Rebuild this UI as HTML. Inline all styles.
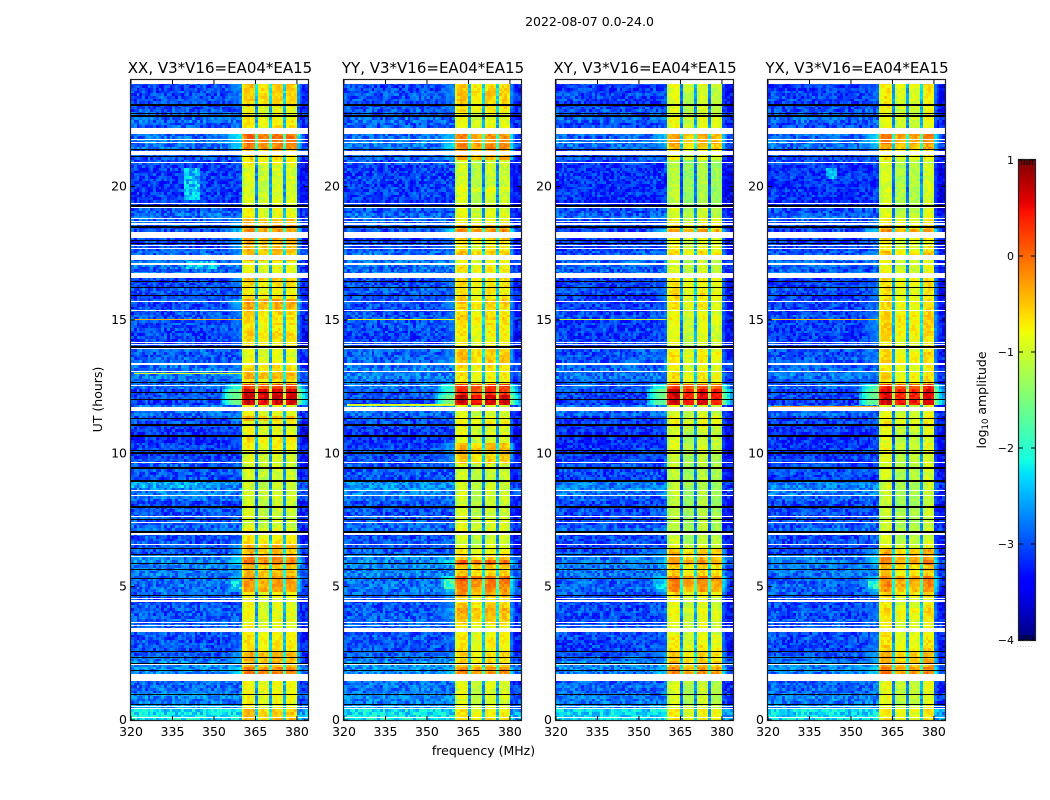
<!DOCTYPE html>
<html lang="en">
<head>
<meta charset="utf-8">
<title>2022-08-07 0.0-24.0 amplitude waterfall</title>
<style>
html,body{margin:0;padding:0;background:#fff;width:1050px;height:800px;overflow:hidden}
svg{display:block}
text{font-family:"DejaVu Sans","Liberation Sans",sans-serif;fill:#000}
</style>
</head>
<body>
<svg id="chart" xmlns="http://www.w3.org/2000/svg" width="1050" height="800" viewBox="0 0 1050 800"></svg>
<script>
// ---------- data ----------
const panelTitles = ["XX, V3*V16=EA04*EA15","YY, V3*V16=EA04*EA15","XY, V3*V16=EA04*EA15","YX, V3*V16=EA04*EA15"];
const panelNames = ["xx","yy","xy","yx"];
const xTicks = [320,335,350,365,380];
const yTicks = [0,5,10,15,20];
const colorTicks = [1,0,-1,-2,-3,-4];
const timeStepHours = 0.2;

// log10 amplitude inside the 360-380 MHz band, one value per 0.2 h from 0 h to 24 h
const bandLevelsXX = [-.45,-.45,-.75,-.75,-.75, -.75,-.7,-.75,-.05,-.1, -.4,-.35,-.35,-.65,-.65, -.65,-.75,-.75,-.8,-.8,
 -.8,-.8,-.8,-.75,-.25, -.2,-.2,-.4,-.4,-.05, -.15,-.4,-.35,-.6,-.7, -.8,-.95,-.95,-.95,-.95,
 -.95,-.95,-.95,-.95,-.95, -.95,-.95,-.95,-.9,-.9, -.8,-.75,-.6,-.85,-.8, -.8,-.4,-.8,-.8,.7,
 .7,.7,.25,-.6,-.35, -.5,-.6,-.8,-.85,-.85, -.65,-.6,-.55,-.65,-.6, -.6,-.5,-.3,-.25,-.65,
 -.7,-.55,-.45,-.8,-.75, -.8,-.4,-.45,-.4,-.35, -.3,-.2,-.25,-.4,-.75, -.8,-.9,-.9,-.9,-.9,
 -.9,-.9,-.9,-.9,-.7, -.6,-.5,-.1,-.05,0, -.7,-.65,-.7,-.75,-.8, -.6,-.5,-.5,-.45,-.4];
const bandLevelsYY = [-.65,-.65,-.8,-.9,-.85, -.9,-.85,-.9,-.15,-.15, -.5,-.6,-.55,-.7,-.65, -.65,-.7,-.7,-.5,-.4,
 -.3,-.45,-.6,-.3,-.15, -.05,.1,-.5,-.45,.05, -.45,-.7,-.85,-.95,-.9, -.8,-.85,-.9,-.95,-.95,
 -.95,-.95,-.95,-.95,-.95, -.95,-.95,-.95,-.5,-.5, -.35,-.4,-.9,-.8,-.85, -.7,-.75,-.9,-.9,.7,
 .7,.35,.3,-.7,-.65, -.65,-.55,-.45,-.45,-.5, -.7,-.7,-.65,-.65,-.6, -.5,-.65,-.5,-.45,-.65,
 -.65,-.6,-.55,-.8,-.6, -.75,-.85,-.45,-.65,-.65, -.4,-.1,-.4,-.75,-.8, -.85,-.9,-.95,-.95,-.8,
 -.95,-.95,-.95,-.95,-.95, -.3,-.3,-.1,-.15,-.15, -.8,-.8,-.8,-.7,-.6, -.55,-.5,-.45,-.5,-.55];
const bandLevelsXY = [-.65,-.65,-.85,-.95,-.95, -.95,-.95,-.95,-.1,-.15, -.4,-.45,-.45,-.6,-.7, -.7,-.8,-.8,-.8,-.75,
 -.7,-.85,-.8,-.6,-.2, -.1,-.05,-.5,-.5,-.15, -.3,-.4,-.8,-.95,-1, -1.05,-1.05,-1.05,-1.05,-1.05,
 -1.1,-1.1,-1.05,-1.1,-1.05, -1.05,-1.05,-1.05,-1,-1, -.85,-.85,-.95,-.9,-.9, -.7,-.7,-.9,-.9,.65,
 .65,.65,.25,-.65,-.6, -.7,-.8,-.65,-.6,-.7, -.85,-.8,-.8,-.8,-.75, -.7,-.75,-.65,-.65,-.6,
 -.65,-.65,-.65,-.8,-.9, -.9,-.95,-.5,-.7,-.8, -.7,-.2,-.6,-.7,-.9, -.95,-1.1,-1.1,-1.1,-1.1,
 -1.1,-1.1,-1.1,-1.1,-1.1, -.8,-.65,-.4,-.25,-.25, -.8,-.75,-.75,-.9,-.9, -.9,-.9,-.9,-.85,-.7];
const bandLevelsYX = [-.65,-.65,-.8,-.85,-.85, -.85,-.8,-.85,-.05,-.1, -.3,-.35,-.35,-.55,-.65, -.65,-.7,-.75,-.7,-.6,
 -.55,-.7,-.75,-.5,-.25, -.15,-.1,-.5,-.45,-.1, -.2,-.35,-.75,-.9,-.95, -1,-1,-1,-1,-1,
 -1.05,-1.05,-1,-1,-1, -.95,-.95,-.95,-.9,-.9, -.8,-.8,-.9,-.9,-.85, -.65,-.7,-.85,-.85,.65,
 .6,.6,.35,-.6,-.55, -.7,-.7,-.55,-.55,-.65, -.7,-.6,-.55,-.5,-.5, -.5,-.55,-.6,-.6,-.65,
 -.65,-.6,-.6,-.75,-.8, -.8,-.85,-.45,-.7,-.75, -.6,-.15,-.5,-.65,-.85, -.9,-.95,-.95,-.95,-.95,
 -.95,-.95,-.95,-.95,-.95, -.7,-.55,-.3,-.15,-.1, -.8,-.8,-.8,-.8,-.75, -.75,-.7,-.7,-.65,-.6];

// log10 amplitude of the quiet background, one value per 0.2 h
const backgroundLevels = [-2.2,-2.25,-2.6,-2.75,-2.7, -2.85,-2.85,-2.85,-2.75,-2.65, -2.65,-2.85,-2.95,-3,-3, -2.95,-2.95,-2.9,-2.9,-2.95,
 -2.95,-2.95,-3,-2.9,-2.85, -2.85,-2.85,-2.75,-2.75,-2.7, -2.75,-2.95,-3,-2.95,-3, -2.85,-2.9,-2.95,-3,-2.95,
 -3,-2.85,-2.75,-2.7,-2.7, -3,-2.95,-2.95,-3,-3.05, -3.05,-3.1,-3.15,-3.15,-3.1, -3,-3,-2.85,-2.75,-3.05,
 -3,-3,-2.85,-2.85,-2.75, -2.8,-2.85,-2.9,-2.95,-2.9, -3,-3.05,-3.05,-3,-3, -2.95,-3,-3,-3,-3.05,
 -2.95,-3,-3.05,-2.75,-2.9, -2.8,-2.85,-2.9,-3,-3.05, -3.05,-3,-2.95,-2.9,-2.85, -2.95,-3.1,-3.15,-3.1,-3.1,
 -3.1,-3.05,-3.1,-3.1,-3, -2.95,-3,-2.8,-2.75,-2.85, -2.95,-2.95,-2.85,-2.9,-2.95, -3.05,-3,-3,-3.05,-3];
const backgroundOffsets = [0,.02,-.05,-.05];

// gain of each 5 MHz sub-band per panel
const subbandGainsXX = [.02,-.14,-.02,-.05];
const subbandGainsYY = [.02,-.2,-.05,-.05];
const subbandGainsXY = [0,-.25,-.05,-.16];
const subbandGainsYX = [.02,-.22,-.2,0];

// channel response across 360-380 MHz (1 MHz channels); the dips sit at 365, 370 and 375 MHz
const channelShape = [-.3,-.06,0,0,-.06, -1.7, -.06,0,0,-.06, -1.7, -.06,0,0,-.06, -1.7, -.06,0,0,-.1];
// how far below the band level the wings sit, nearest the band at the end of the left list
const wingDropLeft = [3.1,2.8,2.5,2.4,2.3,2.3,2.2];
const wingDropRight = [2.2,2.5,2.9,3.2];

// hand-read speckle deviations used as texture on the cells
const speckle = [.12,-.31,.05,.38,-.18,.22,-.42,.09,-.06,.3,-.25,.17,-.37,.02,.26,-.12,.41,-.29,.07,-.15,.33,-.4,.14,-.03,.24,-.34,.19,-.09,.36,-.21,.01,.28,-.44,.11,-.16,.21,-.27];

// localized faint emission: panel, fLow, fHigh, tLow, tHigh, level
const emissionPanels = [0,0,0,0,1,3,3,2];
const emissionFreqLow = [339,340,320,356,356,341,356,356];
const emissionFreqHigh = [345,351,345,360,360,345,360,360];
const emissionTimeLow = [19.5,16.85,8.7,4.85,4.85,20.3,4.85,4.85];
const emissionTimeHigh = [20.7,17.2,8.95,5.2,5.25,20.7,5.2,5.15];
const emissionLevel = [-2.4,-2.35,-2.5,-2.2,-1.9,-2.55,-2.1,-2.4];

// narrow interference rows left of the band: panel, hour, level
const spikePanels = [0,0,0,1,1,2,3,3,1];
const spikeHours = [15.02,13.02,11.74,15.02,11.8,15.02,15.02,11.76,11.86];
const spikeLevels = [-.4,-.9,-.2,-.8,-1.0,-1.0,-.5,-.25,-.9];

// flagged time ranges (white), hours
const gapStart = [23.85,21.975,21.75,21.65,21.18,20.895,19.36,19.22,18.795,18.68,18.58,18.075,17.79,17.67,17.25,17.08,16.575,15.68,15.36,14.13,14.055,13.93,13.33,13.06,12.63,12.53,11.59,9.645,8.57,8.41,7.605,7.41,6.955,6.57,6.105,4.545,4.41,3.63,3.52,3.31,2.08,1.47,.47,.405,.08];
const gapEnd = [24,22.19,21.795,21.69,21.35,20.93,19.395,19.255,18.83,18.72,18.62,18.29,17.83,17.71,17.43,17.12,16.76,15.72,15.39,14.17,14.09,13.97,13.37,13.095,12.67,12.57,11.73,9.68,8.64,8.445,7.64,7.44,7.02,6.61,6.14,4.58,4.49,3.67,3.555,3.45,2.12,1.71,.51,.44,.12];

// scan boundaries (black), hours
const thickLineHours = [23.07,22.66,19.29,14.0,11.06,10.65,10.0,9.45,8.96,8.0,7.04];
const thinLineHours = [22.76,21.40,21.14,18.54,18.47,17.99,17.90,16.45,16.25,15.93,12.69,12.31,12.04,11.31,10.125,7.53,6.46,6.225,5.875,5.65,5.31,4.68,2.6,2.35,2.13,1.875,.96,.6];

// ---------- groupings ----------
const bandLevels = [bandLevelsXX,bandLevelsYY,bandLevelsXY,bandLevelsYX];
const subbandGains = [subbandGainsXX,subbandGainsYY,subbandGainsXY,subbandGainsYX];

// ---------- layout and axis functions ----------
const NS = "http://www.w3.org/2000/svg";
const svg = document.getElementById("chart");
const panelLeft = [131,344,556,768];
const panelWidth = 177, plotTop = 80, plotBottom = 720;
const freqMin = 320, freqMax = 384, timeMax = 24;
const cbLeft = 1019, cbRight = 1035, cbTop = 160, cbBottom = 640, cbMin = -4, cbMax = 1;
function xScale(p,f){return panelLeft[p]+(f-freqMin)/(freqMax-freqMin)*panelWidth;}
function yScale(t){return plotBottom-t/timeMax*(plotBottom-plotTop);}
function cbScale(v){return cbBottom-(v-cbMin)/(cbMax-cbMin)*(cbBottom-cbTop);}
function clamp(x){return Math.max(0,Math.min(1,x));}
function jet(v){
  const f = clamp((v-cbMin)/(cbMax-cbMin));
  let r,g,b;
  if(f<.35) r=0; else if(f<.66) r=(f-.35)/.31; else if(f<.89) r=1; else r=1-(f-.89)/.11*.5;
  if(f<.125) g=0; else if(f<.375) g=(f-.125)/.25; else if(f<.64) g=1; else if(f<.91) g=1-(f-.64)/.27; else g=0;
  if(f<.11) b=.5+f/.11*.5; else if(f<.34) b=1; else if(f<.65) b=1-(f-.34)/.31; else b=0;
  return "rgb("+Math.round(r*255)+","+Math.round(g*255)+","+Math.round(b*255)+")";
}
function make(tag,parent,attrs){
  const el = document.createElementNS(NS,tag);
  for(const k in attrs) el.setAttribute(k,attrs[k]);
  parent.appendChild(el);
  return el;
}
function cellValue(p,i,c,r){
  const band = bandLevels[p][i];
  const bg = backgroundLevels[i]+backgroundOffsets[p];
  const sp = speckle[(c*c*3+r*r*5+c*r+p*7)%speckle.length];
  let v;
  if(c>=40 && c<60){
    const k = c-40;
    const sub = Math.min(3,Math.floor(k/5));
    v = band+subbandGains[p][sub]+channelShape[k]+sp*.4;
  } else if(c>=60){
    v = Math.max(bg-.3+sp*.8,band-wingDropRight[c-60]+sp*.3);
  } else {
    v = bg+sp*.8;
    if(c>=33) v = Math.max(v,band-wingDropLeft[c-33]+sp*.3);
  }
  const t = r*timeStepHours/2, f = freqMin+c;
  for(let e=0;e<emissionPanels.length;e++){
    if(emissionPanels[e]===p && f>=emissionFreqLow[e] && f<emissionFreqHigh[e] && t>=emissionTimeLow[e] && t<emissionTimeHigh[e]){
      v = Math.max(v,emissionLevel[e]+sp*.9);
    }
  }
  return v;
}

// ---------- figure text ----------
const figTitle = make("text",svg,{x:589.5,y:26,"font-size":"12.5","text-anchor":"middle"});
figTitle.textContent = "2022-08-07 0.0-24.0";


const xAxisTitle = make("text",svg,{x:483.5,y:755,"font-size":"12.5","text-anchor":"middle"});
xAxisTitle.textContent = "frequency (MHz)";


const yAxisTitle = make("text",svg,{x:0,y:0,"font-size":"12.5","text-anchor":"middle",transform:"translate(102,399.5) rotate(-90)"});
yAxisTitle.textContent = "UT (hours)";



// ---------- panels ----------
panelTitles.forEach(function(title,p){
  const group = make("g",svg,{});
  
  
  const heat = make("g",group,{"shape-rendering":"crispEdges"});
  
  
  const rowCount = bandLevels[p].length*2;
  for(let r=0;r<rowCount;r++){
    const i = Math.floor(r/2);
    const t0 = r*timeStepHours/2, t1 = (r+1)*timeStepHours/2;
    const y = Math.round(yScale(t1)), h = Math.round(yScale(t0))-y;
    for(let c=0;c<freqMax-freqMin;c++){
      const x = Math.round(xScale(p,freqMin+c)), w = Math.round(xScale(p,freqMin+c+1))-x;
      const cell = make("rect",heat,{x:x,y:y,width:w,height:h,fill:jet(cellValue(p,i,c,r))});
      
      
    }
  }
  spikeHours.forEach(function(hour,k){
    if(spikePanels[k]!==p) return;
    const spike = make("rect",group,{x:xScale(p,freqMin+1),y:Math.round(yScale(hour)),width:xScale(p,360)-xScale(p,freqMin+1),height:1,fill:jet(spikeLevels[k]),"shape-rendering":"crispEdges"});
    
    
  });
  gapStart.forEach(function(start,k){
    const top = Math.round(yScale(gapEnd[k])), bottom = Math.round(yScale(start));
    const gap = make("rect",group,{x:panelLeft[p],y:top,width:panelWidth,height:Math.max(1,bottom-top),fill:"#fff","shape-rendering":"crispEdges"});
    
    
  });
  thickLineHours.forEach(function(hour){
    const line = make("rect",group,{x:panelLeft[p],y:Math.round(yScale(hour))-1,width:panelWidth,height:2,fill:"#000","shape-rendering":"crispEdges"});
    
    
  });
  thinLineHours.forEach(function(hour){
    const line = make("rect",group,{x:panelLeft[p],y:Math.round(yScale(hour)),width:panelWidth,height:1,fill:"#000","shape-rendering":"crispEdges"});
    
    
  });
  const frame = make("rect",group,{x:panelLeft[p]-.5,y:plotTop-.5,width:panelWidth+1,height:plotBottom-plotTop+1,fill:"none",stroke:"#222","stroke-width":1.2});
  
  
  const heading = make("text",group,{x:panelLeft[p]+panelWidth/2+.5,y:73,"font-size":"15","text-anchor":"middle"});
  heading.textContent = title;
  
  
  xTicks.forEach(function(f){
    const x = xScale(p,f);
    const tb = make("line",group,{x1:x,x2:x,y1:plotBottom,y2:plotBottom-4,stroke:"#000","stroke-width":1});
    
    
    const tt = make("line",group,{x1:x,x2:x,y1:plotTop,y2:plotTop+4,stroke:"#000","stroke-width":1});
    
    
    const lab = make("text",group,{x:x,y:736,"font-size":"12.5","text-anchor":"middle"});
    lab.textContent = String(f);
    
    
  });
  yTicks.forEach(function(t){
    const y = yScale(t);
    const tl = make("line",group,{x1:panelLeft[p],x2:panelLeft[p]+4,y1:y,y2:y,stroke:"#000","stroke-width":1});
    
    
    const tr = make("line",group,{x1:panelLeft[p]+panelWidth,x2:panelLeft[p]+panelWidth-4,y1:y,y2:y,stroke:"#000","stroke-width":1});
    
    
    const lab = make("text",group,{x:panelLeft[p]-4,y:y+4,"font-size":"12.5","text-anchor":"end"});
    lab.textContent = String(t);
    
    
  });
});

// ---------- colorbar ----------
const cb = make("g",svg,{});


const cbRamp = make("g",cb,{"shape-rendering":"crispEdges"});


for(let y=cbTop;y<cbBottom;y++){
  const v = cbMax-(y+.5-cbTop)/(cbBottom-cbTop)*(cbMax-cbMin);
  const stripe = make("rect",cbRamp,{x:cbLeft,y:y,width:cbRight-cbLeft,height:1,fill:jet(v)});
  
  
}
const cbFrame = make("rect",cb,{x:cbLeft-.5,y:cbTop-.5,width:cbRight-cbLeft+1,height:cbBottom-cbTop+1,fill:"none",stroke:"#222","stroke-width":1.2});


colorTicks.forEach(function(v){
  const y = cbScale(v);
  const a = make("line",cb,{x1:cbLeft,x2:cbLeft+4,y1:y,y2:y,stroke:"#000","stroke-width":1});
  
  
  const b = make("line",cb,{x1:cbRight,x2:cbRight-4,y1:y,y2:y,stroke:"#000","stroke-width":1});
  
  
  const lab = make("text",cb,{x:cbLeft-5,y:y+4,"font-size":"11","text-anchor":"end"});
  lab.textContent = (v<0?"\u2212":"")+Math.abs(v);
  
  
});
for(let k=1;k<=5;k++){
  const x = cbLeft+k*(cbRight-cbLeft)/6;
  const up = make("line",cb,{x1:x,x2:x,y1:cbTop,y2:cbTop+5,stroke:"#000","stroke-width":1});
  
  
  const dn = make("line",cb,{x1:x,x2:x,y1:cbBottom,y2:cbBottom-5,stroke:"#000","stroke-width":1});
  
  
}
const cbDots = make("text",cb,{x:1017,y:647,"font-size":"5","letter-spacing":"1.1",style:"fill:#777"});
cbDots.textContent = "......";


const cbTitle = make("text",cb,{x:0,y:0,"font-size":"12.5","text-anchor":"middle",transform:"translate(986,400) rotate(-90)"});


cbTitle.appendChild(document.createTextNode("log"));
const cbSub = make("tspan",cbTitle,{"font-size":"8.5",dy:"2"});
cbSub.textContent = "10";


const cbRest = make("tspan",cbTitle,{dy:"-2"});
cbRest.textContent = " amplitude";


</script>
</body>
</html>
